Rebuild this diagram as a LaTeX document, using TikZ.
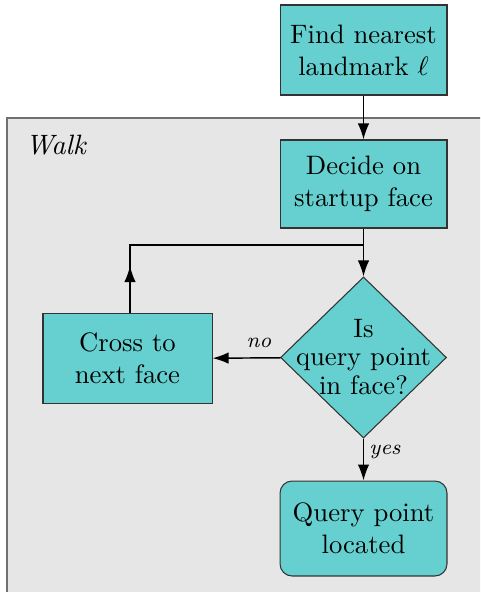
\documentclass[tikz,border=0pt]{standalone}
\usetikzlibrary{arrows.meta,shapes.geometric,decorations.markings}
\definecolor{boxfill}{RGB}{102,208,208}
\definecolor{walkfill}{RGB}{230,230,230}
\definecolor{walkline}{RGB}{112,112,112}
\begin{document}
\begin{tikzpicture}[x=0.375pt,y=-0.375pt,
  stepbox/.style={draw=black!80, fill=boxfill, line width=0.4pt, align=center,
    inner sep=0pt, minimum width=62.6pt, minimum height=33.75pt},
  decision/.style={draw=black!80, fill=boxfill, line width=0.4pt, shape=diamond,
    inner sep=0pt, minimum width=62.25pt, minimum height=60.4pt},
  tip/.tip={Latex[length=6pt,width=4.3pt]},
  flow/.style={line width=0.55pt, -tip},
  edgelabel/.style={font=\footnotesize\itshape}]
  \clip (0,0) rectangle (480,592);
  \useasboundingbox (0,0) rectangle (480,592);

  % the shaded "Walk" region, running off the right and bottom edges
  \draw[walkline, fill=walkfill, line width=0.8pt] (7,118) rectangle (520,640);
  \node[font=\itshape, anchor=west, inner sep=0pt, scale=1.05] (walk) at (25,145) {Walk};

  % steps
  \node[stepbox] (find) at (363.5,50) {Find nearest\\landmark $\ell$};
  \node[stepbox, minimum height=33pt] (decide) at (363.5,184) {Decide on\\startup face};
  \node[decision] (dec) at (363.5,357.5) {};
  \node[align=center, inner sep=0pt] (dectext) at (363.5,357) {Is\\[-1.3pt]query point\\[-1.3pt]in face?};
  \node[stepbox, minimum width=63.4pt] (cross) at (127.5,358.5) {Cross to\\next face};
  \node[stepbox, rounded corners=4.5pt, minimum height=35.6pt] (query) at (363.5,528.5) {Query point\\located};

  % connectors
  \draw[flow] (find) -- (decide);
  \draw[flow] (decide) -- (dec);
  \coordinate (join) at (363.5,245);
  \coordinate (turn) at (130,245);
  \draw[line width=0.55pt, decoration={markings,
      mark=at position 17.6pt with {\arrow{tip}}}, postaction={decorate}]
    (cross.north -| turn) -- (turn) -- (join);
  \draw[flow] (dec) -- (cross);
  \draw[flow] (dec) -- (query);

  % branch labels
  \node[edgelabel] (nolabel) at (259,343) {no};
  \node[edgelabel] (yeslabel) at (385,452) {yes};
\end{tikzpicture}
\end{document}
